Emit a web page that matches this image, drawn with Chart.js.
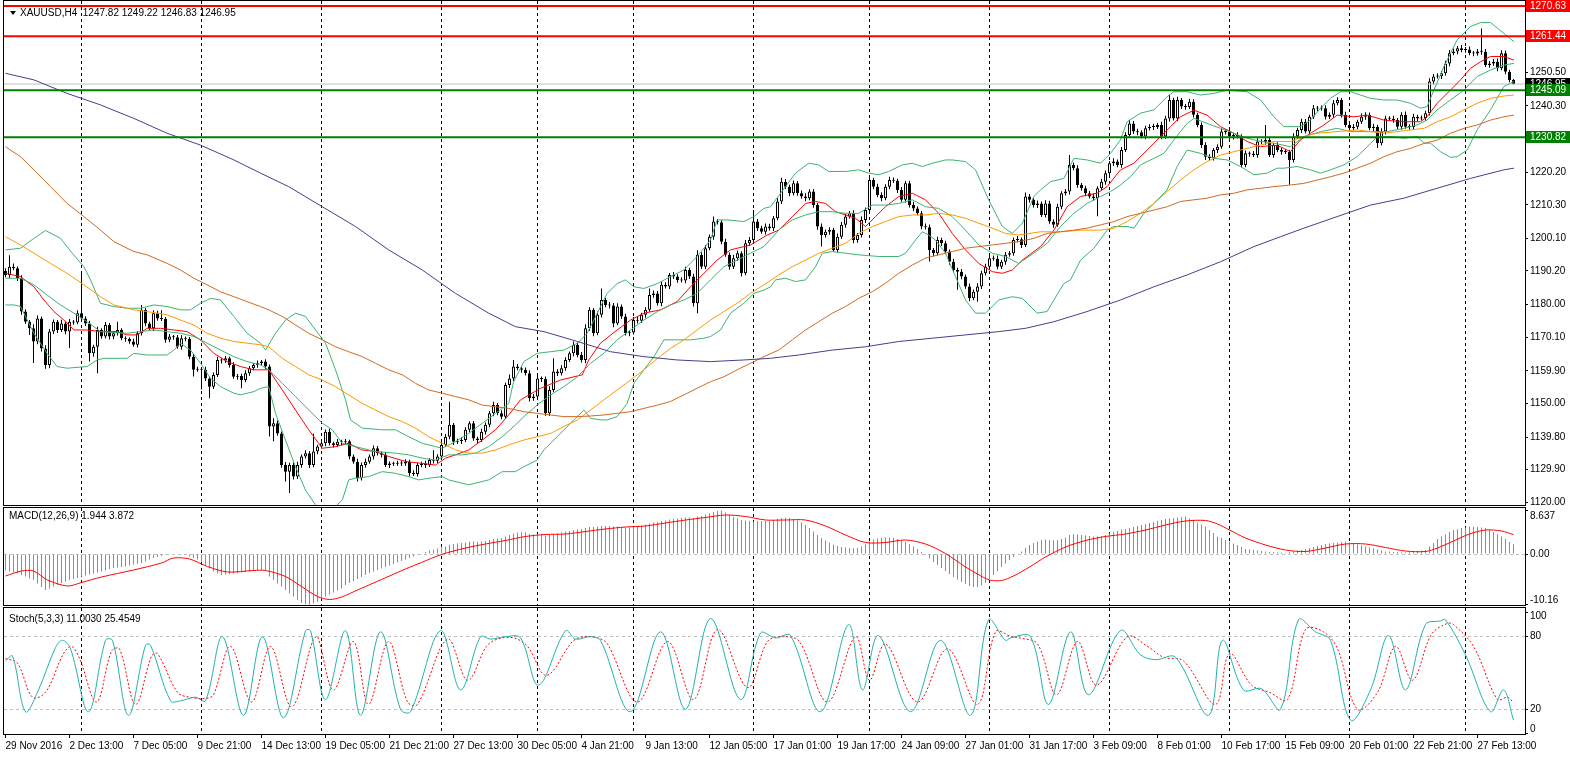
<!DOCTYPE html>
<html>
<head>
<meta charset="utf-8">
<title>XAUUSD,H4</title>
<script src="https://cdn.jsdelivr.net/npm/chart.js@4.4.1/dist/chart.umd.min.js"></script>
<style>
  html, body { margin: 0; padding: 0; background: #fff; overflow: hidden; }
  #wrap { position: relative; width: 1570px; height: 757px; }
  #wrap canvas { position: absolute; left: 0; }
</style>
</head>
<body>
<div id="wrap">
  <canvas id="priceChart" width="1570" height="507" style="top:0px"></canvas>
  <canvas id="macdChart" width="1570" height="100" style="top:507px"></canvas>
  <canvas id="stochChart" width="1570" height="150" style="top:607px"></canvas>
</div>
<script>
// ---------- data (one entry per bar) ----------
const quote = ['1247.82', '1249.22', '1246.83', '1246.95'];
const firstOpen = 1190.2;
const closes = [
  1189.0,1191.5,1191.0,1188.0,1177.9,1174.8,1172.8,1168.8,1175.8,1166.7,
  1161.7,1171.8,1174.8,1172.3,1174.3,1171.8,1174.8,1174.6,1177.4,1175.8,
  1174.3,1165.2,1167.2,1172.3,1170.3,1173.8,1170.3,1171.3,1172.3,1169.8,
  1169.6,1168.8,1167.8,1171.3,1178.4,1174.3,1172.8,1177.4,1175.8,1175.6,
  1169.3,1170.3,1170.1,1167.2,1169.8,1169.6,1164.2,1160.2,1160.4,1160.2,
  1157.6,1155.1,1158.6,1163.2,1163.0,1163.7,1161.7,1158.1,1158.3,1157.1,
  1159.2,1160.7,1161.7,1162.2,1162.7,1161.2,1143.0,1144.0,1140.9,1131.3,
  1129.3,1131.3,1127.8,1131.3,1133.9,1134.9,1131.3,1135.4,1136.9,1137.9,
  1141.4,1137.9,1137.4,1138.4,1138.2,1138.5,1133.9,1132.3,1127.3,1131.3,
  1132.3,1133.9,1136.4,1134.9,1134.4,1131.3,1131.8,1131.7,1131.9,1131.8,
  1132.3,1128.8,1128.6,1131.3,1131.8,1131.3,1132.8,1132.6,1133.9,1137.4,
  1139.9,1143.5,1138.4,1138.6,1138.9,1142.0,1144.0,1139.4,1138.9,1141.4,
  1143.5,1147.0,1149.5,1147.0,1146.0,1155.6,1157.6,1161.2,1160.7,1160.2,
  1159.2,1151.6,1152.1,1157.6,1157.4,1147.0,1154.1,1159.7,1159.2,1160.7,
  1163.2,1165.2,1167.8,1164.7,1163.2,1172.8,1178.4,1171.3,1176.9,1181.4,
  1179.9,1179.7,1174.3,1179.4,1176.4,1171.3,1171.5,1175.3,1175.1,1176.9,
  1178.4,1182.9,1183.4,1180.4,1186.0,1185.5,1189.0,1188.5,1187.5,1187.3,
  1190.5,1188.5,1180.4,1195.1,1191.5,1197.1,1200.6,1205.2,1205.0,1199.1,
  1195.1,1191.5,1194.1,1195.6,1189.5,1198.6,1199.6,1205.2,1203.2,1202.1,
  1203.7,1203.2,1206.2,1211.3,1217.3,1215.8,1213.8,1216.8,1213.8,1212.8,
  1212.3,1214.3,1210.2,1203.7,1201.1,1202.1,1202.7,1196.6,1200.6,1204.2,
  1206.7,1207.7,1199.6,1201.1,1205.7,1208.7,1217.8,1215.8,1213.3,1212.3,
  1215.8,1217.8,1217.6,1214.8,1211.8,1216.8,1210.2,1209.2,1207.7,1203.7,
  1203.5,1196.6,1195.6,1199.6,1198.6,1196.1,1193.0,1190.5,1190.0,1188.5,
  1185.5,1181.9,1183.9,1185.5,1189.5,1191.5,1194.1,1193.9,1191.5,1193.0,
  1195.1,1195.6,1199.6,1199.8,1198.1,1212.8,1211.8,1210.2,1210.7,1207.2,
  1210.7,1205.2,1204.2,1209.7,1213.8,1214.3,1222.4,1221.4,1216.3,1215.3,
  1213.8,1212.8,1212.3,1215.3,1217.3,1219.9,1222.9,1223.4,1222.4,1226.9,
  1231.5,1235.0,1232.5,1232.3,1231.0,1233.5,1234.0,1233.9,1234.5,1231.0,
  1236.5,1242.1,1236.5,1242.1,1240.1,1240.0,1241.6,1237.6,1234.5,1228.4,
  1224.9,1224.4,1226.9,1227.9,1232.5,1232.4,1231.0,1231.5,1231.0,1222.4,
  1225.9,1225.8,1225.4,1229.5,1229.4,1230.0,1225.4,1228.4,1226.9,1226.4,
  1226.3,1223.9,1231.0,1233.0,1235.5,1232.5,1237.0,1239.6,1239.5,1239.6,
  1237.0,1237.6,1241.1,1242.1,1237.6,1234.5,1233.5,1234.0,1235.5,1237.0,
  1237.6,1233.5,1234.0,1229.0,1232.5,1236.5,1236.4,1236.0,1234.0,1237.6,
  1234.0,1233.9,1237.0,1236.5,1236.6,1238.1,1247.7,1249.2,1249.3,1250.2,
  1253.2,1256.3,1256.8,1257.8,1257.3,1257.4,1256.3,1256.2,1256.8,1256.7,
  1252.7,1253.2,1253.7,1251.7,1256.3,1250.7,1248.2,1246.95
];
// shadow length above / below the body, in dollars
const upWick = [
  0.8,3.5,1.0,0.6,0.9,0.7,0.5,1.2,0.9,0.6, 1.0,0.8,0.7,0.5,1.1,0.6,0.8,0.5,0.9,12.0,
  0.7,0.8,0.6,1.0,0.5,0.9,0.6,0.7,2.5,0.5, 0.6,0.4,0.8,0.7,1.5,0.6,0.5,0.9,0.7,2.5,
  0.6,0.8,0.5,0.7,0.9,0.5,0.6,0.8,0.7,0.5, 0.9,0.6,0.8,1.0,0.6,0.7,0.5,0.8,0.6,0.7,
  0.9,0.7,0.6,0.8,0.5,0.7,0.6,1.5,0.8,0.6, 0.9,0.7,0.8,1.0,0.6,0.9,0.7,5.5,0.6,0.8,
  0.7,0.9,0.5,0.8,0.6,0.7,0.5,0.6,0.9,0.8, 1.0,0.6,0.8,0.7,0.5,0.9,0.6,0.5,0.7,0.6,
  0.8,0.6,0.9,0.7,0.5,0.8,0.6,3.0,0.7,0.9, 0.8,7.0,0.6,0.7,0.9,0.8,0.6,0.7,0.5,0.9,
  0.7,0.8,1.0,0.6,0.9,0.7,1.2,2.0,0.8,0.6, 0.7,0.9,0.8,1.0,0.6,0.8,1.1,4.0,0.7,0.9,
  0.8,0.6,1.0,0.7,0.9,1.2,0.8,0.6,1.0,3.5, 0.7,0.9,0.8,1.0,0.6,0.8,0.7,0.9,1.0,0.6,
  0.8,2.0,0.9,0.7,1.0,0.8,0.6,0.9,0.7,0.8, 1.0,0.7,0.9,1.4,0.8,1.0,0.7,1.5,0.8,0.6,
  0.9,0.7,1.0,0.8,0.6,1.0,0.9,3.5,0.8,0.7, 0.9,0.8,0.7,1.0,1.2,0.8,0.6,0.9,0.7,0.8,
  1.0,0.7,0.8,0.6,0.9,0.7,0.8,0.6,1.0,0.9, 0.8,0.7,0.9,0.6,1.0,0.8,1.5,0.7,0.9,0.8,
  0.7,1.0,0.8,0.6,0.9,0.7,0.8,1.0,0.6,0.7, 0.9,0.8,0.6,1.0,0.7,0.8,0.6,0.9,0.7,0.8,
  0.6,0.9,0.7,1.0,0.8,0.9,0.7,0.8,1.0,0.6, 0.9,0.7,0.8,1.0,0.6,1.2,0.8,0.7,0.9,0.6,
  1.0,0.8,0.7,0.9,0.6,0.8,3.0,0.7,0.9,0.6, 0.8,0.7,1.0,0.6,0.9,0.8,0.7,1.0,0.6,0.9,
  0.8,1.0,0.7,0.9,0.6,0.8,0.7,0.9,0.6,1.0, 0.8,1.5,0.7,1.0,0.6,0.8,0.9,0.7,0.6,0.8,
  0.9,0.7,0.6,0.8,1.0,0.7,0.9,0.6,0.8,0.7, 0.9,0.6,0.8,1.0,0.7,4.5,0.8,0.6,0.9,0.7,
  0.8,0.6,1.0,0.7,0.9,0.8,0.6,1.0,0.7,0.8, 0.9,0.7,1.0,0.8,0.6,0.9,0.7,0.8,0.6,1.0,
  0.8,0.7,0.9,0.6,1.0,0.8,0.7,0.9,0.6,0.8, 1.0,0.7,0.9,0.6,0.8,0.7,1.0,0.8,0.9,0.7,
  0.8,1.0,0.9,0.7,1.0,0.8,0.9,0.7,0.8,7.0, 0.9,0.7,0.8,1.0,0.9,0.8,0.6,0.3
];
const dnWick = [
  0.7,0.9,0.6,0.8,1.0,0.7,2.0,6.5,0.8,0.9, 1.2,1.0,0.7,0.9,0.6,0.8,5.0,0.7,0.6,0.9,
  0.8,2.5,1.0,8.0,0.7,0.6,0.9,0.8,0.7,0.6, 0.9,0.7,0.6,0.8,0.7,0.9,0.6,0.8,0.7,0.6,
  0.9,0.7,0.8,0.6,0.9,0.7,0.8,2.0,0.6,6.0, 0.8,3.5,0.7,0.6,0.9,0.7,0.8,0.6,0.9,2.5,
  0.7,0.8,0.6,0.9,0.7,0.8,3.0,4.5,0.7,0.8, 3.0,6.5,0.9,0.7,0.8,0.6,0.9,0.7,0.8,0.6,
  0.9,0.7,0.8,0.6,0.9,0.7,0.8,0.6,1.0,0.7, 0.8,0.6,0.9,0.7,0.8,0.6,0.9,0.7,0.6,0.8,
  0.7,0.9,0.6,0.8,0.7,0.9,0.6,0.8,0.7,0.9, 0.6,0.8,1.0,0.7,0.9,0.6,0.8,0.7,0.9,0.6,
  0.8,0.7,0.9,0.6,0.8,0.7,0.9,0.8,0.6,0.9, 0.7,1.0,0.8,0.6,0.9,0.7,0.8,0.6,0.9,0.7,
  0.8,0.6,0.9,0.7,0.8,1.0,0.7,0.9,0.6,0.8, 0.7,0.9,1.2,0.6,0.8,0.7,0.9,0.6,0.8,0.7,
  0.9,0.6,0.8,0.7,0.9,0.6,0.8,0.7,0.9,0.6, 0.8,0.7,1.0,3.0,0.7,0.8,0.6,0.9,0.7,0.8,
  0.6,0.9,0.7,0.8,1.0,0.6,0.8,0.7,0.9,0.6, 0.8,0.7,0.9,0.6,0.8,0.7,0.9,0.6,0.8,0.7,
  0.9,0.6,0.8,1.0,3.5,0.7,0.9,0.6,0.8,0.7, 0.9,0.6,1.0,0.8,0.7,0.9,0.6,0.8,0.7,0.9,
  0.6,0.8,0.7,0.9,0.6,0.8,0.7,0.9,0.6,0.8, 0.7,3.5,0.9,0.6,0.8,0.7,0.9,0.6,5.5,0.8,
  0.7,0.9,0.6,3.0,0.8,0.7,0.9,0.6,0.8,0.7, 0.9,0.6,0.8,0.7,0.9,0.6,0.8,0.7,0.9,0.6,
  0.8,0.7,0.9,0.6,0.8,0.7,0.9,0.6,0.8,0.7, 0.9,0.6,0.8,5.5,0.7,0.9,0.6,0.8,0.7,0.9,
  0.6,0.8,0.7,0.9,0.6,0.8,0.7,0.9,0.6,0.8, 0.7,0.9,0.6,0.8,0.7,0.9,0.6,0.8,0.7,0.9,
  1.0,0.8,0.7,0.9,0.6,0.8,0.7,0.9,0.6,0.8, 0.7,0.9,0.6,0.8,0.7,0.9,0.6,0.8,0.7,0.9,
  0.6,7.5,0.8,0.7,0.9,0.6,0.8,0.7,0.9,0.6, 0.8,0.7,0.9,0.6,0.8,0.7,0.9,0.6,0.8,0.7,
  0.9,0.6,0.8,1.5,0.7,0.9,0.6,0.8,0.7,0.9, 0.6,0.8,0.7,0.9,0.6,0.8,0.7,0.9,0.6,0.8,
  0.7,0.9,0.6,0.8,0.7,0.9,0.6,0.8,0.7,0.9, 0.6,0.8,0.7,0.9,0.6,0.8,0.7,0.12
];
const lastPrice = 1246.95;
const levels = [1270.63, 1261.44, 1245.09, 1230.82];
const priceTicks = [1120.00, 1129.90, 1139.80, 1150.00, 1159.90, 1170.10, 1180.00, 1190.20,
                    1200.10, 1210.30, 1220.20, 1230.40, 1240.30, 1250.50, 1260.60];

// indicator lines as [bar, value]
const maFast = [[0,1189.5],[3.75,1188.5],[7.1,1185.4],[9.6,1181.4],[12.1,1177.9],[14.6,1175.3],[17.1,1172.3],[20.4,1172.3],[23.75,1171.8],[27.9,1171.8],[30.4,1170.8],[32.9,1170.8],[35.4,1172.8],[38.75,1172.8],[42.1,1172.3],[45.4,1171.8],[48.75,1169.3],[52.1,1165.2],[55.4,1162.7],[58.75,1161.2],[62.1,1160.2],[65.8,1160.2],[69.2,1154.1],[72.5,1148.0],[75.8,1142.0],[79.2,1136.4],[82.5,1136.9],[85.8,1137.9],[89,1135.9],[92.5,1135.4],[95.8,1133.9],[100,1132.4],[104.2,1131.8],[107.5,1131.3],[110,1133.4],[112.5,1134.4],[115.8,1135.9],[119.2,1138.9],[122.5,1142.0],[125.8,1146.5],[128.75,1151.1],[133.75,1154.6],[138.75,1157.1],[144.2,1158.7],[145.8,1163.2],[148.75,1168.3],[152.9,1172.3],[156.25,1175.3],[159.6,1177.4],[163.75,1178.4],[167.9,1180.9],[171.25,1185.4],[174.6,1189.5],[177.9,1193.5],[181.25,1196.6],[186.25,1198.1],[190.4,1201.1],[193.3,1202.6],[196.7,1206.7],[200,1210.7],[202.5,1211.3],[205,1210.7],[207.5,1208.2],[210,1207.2],[212.5,1206.2],[215,1203.7],[217.5,1206.7],[220,1209.7],[223.3,1212.8],[226.7,1213.8],[230,1211.8],[233.3,1207.7],[236.7,1201.6],[240,1196.6],[243.3,1192.5],[246.7,1190.0],[249.2,1189.5],[251.7,1190.5],[254.2,1193.5],[258.75,1197.6],[262.1,1202.6],[265.4,1209.7],[268.75,1212.8],[272.9,1213.8],[275.4,1215.8],[278.75,1220.9],[282.1,1222.9],[285.4,1226.9],[288.75,1231.0],[291.25,1234.0],[293.75,1237.0],[297.1,1239.0],[300.4,1237.5],[303.75,1234.0],[307.1,1232.0],[310.4,1229.5],[313.75,1227.9],[317.1,1228.4],[318.75,1227.9],[321.25,1226.4],[323.75,1230.0],[326.25,1232.0],[329.6,1234.5],[332.9,1237.5],[337.1,1237.0],[340.4,1237.5],[344.6,1236.0],[349.6,1235.5],[353.75,1235.5],[355.4,1237.0],[357.9,1241.1],[361.25,1245.1],[363.75,1248.2],[366.25,1251.7],[368.75,1253.7],[371.25,1255.3],[374.6,1255.3],[377.1,1254.2]];
const bbUpper = [[0,1196.6],[3.75,1197.1],[7.1,1200.1],[10,1202.5],[13.75,1200.1],[16.7,1195.6],[19.6,1191.5],[21.25,1187.5],[23.75,1180.4],[27.1,1179.4],[30.4,1178.9],[33.75,1178.9],[37.1,1179.9],[40.4,1179.4],[43.75,1178.4],[46.25,1178.4],[48.75,1180.4],[51.25,1181.9],[53.75,1181.4],[57.1,1176.4],[60.4,1171.3],[63.75,1168.3],[65,1166.2],[67.5,1171.3],[70,1175.3],[72.5,1177.4],[75,1176.4],[77.5,1172.3],[80,1168.3],[82.5,1160.2],[85,1151.1],[86.25,1145.0],[89.2,1142.5],[94.2,1142.0],[97.5,1142.0],[100.8,1139.9],[104.2,1137.9],[107.5,1136.9],[109.2,1136.4],[112.5,1138.4],[115.8,1140.9],[119.2,1144.0],[122.5,1147.0],[125.8,1150.0],[127,1156.5],[129.6,1162.7],[132.9,1165.2],[136.25,1165.7],[139.6,1166.2],[143,1168.3],[145.4,1171.3],[147.1,1175.3],[148.75,1179.4],[150.4,1183.4],[152.9,1186.4],[155,1187.5],[157.1,1185.4],[159.6,1184.9],[163,1186.4],[166.25,1188.5],[169.6,1190.5],[172.9,1194.6],[176.25,1199.6],[177.9,1205.7],[180.4,1205.7],[184.6,1205.2],[187.1,1206.7],[189.6,1209.2],[191.25,1209.7],[195,1215.8],[197.5,1219.9],[200.8,1222.9],[203.3,1222.4],[205.8,1220.4],[210,1220.4],[213.3,1220.9],[215.8,1219.9],[218.3,1219.4],[220.8,1220.4],[224.2,1222.4],[226.7,1222.9],[229.2,1221.9],[231.7,1222.9],[235,1223.9],[236.7,1223.9],[240,1223.4],[242.5,1220.9],[245.8,1211.8],[249.2,1203.7],[251.7,1201.6],[254.2,1204.7],[257.1,1212.8],[258.75,1214.8],[261.25,1217.3],[264.6,1218.3],[267.1,1224.4],[270.4,1223.9],[273.75,1222.9],[276.25,1225.9],[278.75,1230.0],[280.4,1235.5],[283.75,1238.1],[287.1,1239.1],[290.4,1243.1],[292.1,1244.6],[295.4,1244.6],[298.75,1243.6],[302.1,1244.1],[305.4,1245.1],[310.4,1244.6],[313.75,1242.1],[317.1,1237.0],[319.6,1234.0],[323.75,1234.0],[326.25,1236.0],[328.75,1239.6],[331.25,1242.6],[333.75,1244.6],[336.25,1244.6],[338.75,1243.6],[341.25,1242.6],[344.6,1242.1],[347.9,1242.1],[351.25,1241.1],[353.75,1239.6],[355.4,1240.1],[357.1,1245.1],[359.6,1252.2],[362.9,1260.3],[366.25,1264.4],[368.75,1265.6],[371.25,1265.6],[374.6,1262.3],[377.1,1259.8]];
const bbMiddle = [[0,1188.0],[3.75,1188.0],[7.1,1186.0],[10.4,1182.9],[13.75,1179.9],[17.1,1177.4],[20.4,1174.8],[23.75,1171.8],[27.1,1171.5],[30.4,1171.3],[33.75,1171.8],[37.1,1172.3],[40.4,1171.8],[43.75,1171.3],[47.1,1170.3],[50.4,1168.3],[53.75,1166.2],[57.1,1164.2],[60.4,1162.7],[63.75,1161.7],[65.8,1160.2],[69.2,1156.1],[72.5,1152.1],[75.8,1148.0],[79.2,1144.0],[81.7,1142.0],[84.2,1137.9],[87.5,1136.9],[92.5,1135.4],[97.5,1134.9],[100.8,1134.4],[104.2,1133.4],[107.5,1132.8],[110.8,1134.4],[114.2,1134.4],[117.5,1134.9],[120.8,1136.9],[124.2,1139.9],[127.5,1143.5],[129.6,1146.0],[132.9,1149.5],[136.25,1152.6],[139.6,1155.1],[143,1158.1],[146.25,1162.2],[149.6,1165.2],[152.9,1169.3],[156.25,1172.3],[159.6,1175.3],[163,1177.9],[166.25,1179.9],[169.6,1181.4],[172.9,1183.4],[176.25,1187.5],[179.6,1191.5],[182.9,1193.5],[186.25,1195.6],[189.6,1197.6],[193.3,1202.6],[196.7,1205.7],[200,1207.2],[203.3,1208.2],[206.7,1208.2],[210,1207.7],[213.3,1207.7],[216.7,1210.2],[220,1210.2],[223.3,1210.7],[226.7,1211.8],[230,1209.7],[233.3,1209.2],[236.7,1206.7],[240,1202.6],[243.3,1198.1],[246.7,1195.6],[250,1194.6],[253.3,1192.5],[257.1,1195.6],[260.4,1198.6],[263.75,1203.7],[267.1,1207.7],[270.4,1210.7],[273.75,1212.8],[276.25,1214.3],[278.75,1216.3],[281.25,1218.8],[283.75,1222.4],[287.1,1224.4],[289.6,1225.9],[292.1,1230.0],[293.75,1232.5],[295.4,1235.0],[297.1,1236.5],[300.4,1235.0],[303.75,1233.5],[307.1,1232.0],[310.4,1230.5],[313.75,1229.5],[317.1,1229.0],[321.25,1227.9],[324.6,1231.0],[328.75,1232.5],[332.9,1233.5],[336.25,1232.5],[341.25,1232.5],[345.4,1232.5],[349.6,1233.5],[352.9,1234.5],[355.4,1236.0],[357.9,1239.1],[361.25,1242.1],[364.6,1245.1],[367.9,1249.2],[371.25,1251.2],[374.6,1252.7],[377.1,1253.2]];
const bbLower = [[0,1179.9],[2.1,1179.9],[3.75,1179.4],[7.1,1171.3],[10.4,1165.2],[12.9,1161.2],[15.4,1160.7],[20.4,1161.2],[22.9,1163.2],[24.6,1163.7],[30.4,1163.7],[32.1,1165.2],[35.4,1164.7],[40.4,1164.7],[42.1,1166.2],[43.75,1168.3],[46.25,1166.2],[48.75,1162.2],[51.25,1157.6],[53.75,1155.1],[57.1,1153.1],[58.75,1152.6],[62.1,1153.6],[63.75,1154.6],[65.8,1155.1],[67.5,1147.0],[70,1138.9],[72.5,1130.8],[75,1123.7],[77.5,1119.2],[79.2,1116.6],[82.5,1118.7],[84.2,1120.7],[85.8,1126.8],[87.5,1127.3],[90.8,1127.8],[94.2,1129.3],[97.5,1128.8],[100.8,1127.8],[103.3,1126.8],[105.8,1127.3],[109.2,1127.8],[110.8,1126.8],[115.8,1125.3],[120.8,1126.8],[124.2,1129.3],[127.5,1129.3],[129.6,1130.8],[132.9,1132.8],[134.6,1135.9],[137.9,1139.9],[141.25,1144.0],[144.6,1148.0],[146.25,1145.5],[148.75,1145.0],[150.4,1145.0],[152.9,1146.0],[155.4,1150.0],[157.1,1156.1],[159.6,1160.2],[162.1,1164.2],[164.6,1169.3],[167.9,1169.3],[171.25,1169.3],[174.6,1169.8],[176.25,1170.3],[178.75,1172.3],[181.25,1177.4],[184.6,1180.4],[187.1,1183.4],[189.6,1184.4],[191.25,1185.4],[192.5,1187.5],[195,1188.0],[197.5,1187.0],[200,1187.5],[202.5,1191.5],[204.2,1195.6],[206.7,1196.1],[210,1195.6],[213.3,1195.1],[218.3,1194.6],[223.3,1194.6],[225,1195.6],[227.5,1199.6],[229.2,1202.1],[230.8,1201.1],[232.5,1199.6],[235,1195.6],[237.5,1188.5],[240,1181.4],[242.5,1177.4],[245,1177.4],[248.3,1181.4],[251.7,1182.4],[254.2,1181.9],[257.9,1177.4],[260.4,1177.9],[262.1,1181.4],[264.6,1186.4],[266.25,1187.5],[268.75,1193.5],[272.1,1197.1],[275.4,1202.6],[277.1,1203.7],[280.4,1203.7],[282.1,1203.2],[284.6,1207.7],[287.1,1210.7],[290.4,1214.8],[292.9,1221.9],[295.4,1226.9],[298.75,1225.9],[302.1,1224.4],[305.4,1223.9],[308.75,1221.9],[312.1,1219.4],[315.4,1219.9],[317.9,1221.4],[319.6,1221.4],[322.9,1221.9],[326.25,1220.9],[328.75,1219.9],[331.25,1220.9],[334.6,1222.4],[337.9,1224.9],[341.25,1228.9],[342.9,1231.0],[346.25,1231.0],[349.6,1230.5],[352.9,1231.0],[354.6,1229.0],[356.25,1229.0],[358.75,1226.4],[361.25,1224.7],[362.9,1224.9],[365.4,1226.9],[367.9,1233.0],[371.25,1239.1],[374.6,1246.2],[377.1,1247.7]];
const maOrange = [[0,1200.6],[3.75,1198.1],[7.1,1195.6],[11.25,1192.5],[15.4,1189.5],[19.6,1186.0],[23.75,1182.4],[27.1,1179.9],[32.1,1178.4],[35.4,1177.9],[40.4,1176.9],[43.75,1175.3],[47.1,1173.8],[50.4,1171.3],[53.75,1169.8],[57.1,1168.8],[60.4,1168.3],[63.75,1167.8],[65.8,1167.2],[69.2,1163.7],[72.5,1161.2],[75.8,1158.7],[79.2,1157.1],[82.5,1155.1],[85.8,1152.6],[89.2,1150.0],[92.5,1148.0],[95.8,1146.0],[99.2,1144.5],[102.5,1142.5],[105.8,1139.9],[109.2,1137.9],[112.5,1135.9],[115.8,1134.9],[119.2,1134.9],[122.5,1135.9],[125.8,1137.4],[129.6,1138.9],[132.9,1139.9],[136.25,1140.9],[139.6,1143.0],[143,1145.0],[146.25,1148.0],[149.6,1151.1],[152.9,1154.1],[156.25,1157.1],[159.6,1160.2],[163,1163.7],[166.25,1166.7],[169.6,1169.3],[172.9,1172.3],[176.25,1175.3],[179.6,1177.9],[182.9,1180.4],[186.25,1183.4],[189.6,1186.0],[193.3,1189.0],[196.7,1191.5],[200,1193.5],[203.3,1195.6],[206.7,1197.1],[210,1198.6],[213.3,1201.6],[216.7,1203.7],[220,1205.2],[223.3,1206.7],[226.7,1207.2],[230,1207.2],[233.3,1207.7],[236.7,1207.2],[240,1206.2],[243.3,1204.7],[246.7,1203.2],[250,1201.6],[253.3,1201.1],[258.75,1202.1],[263.75,1202.1],[268.75,1202.6],[273.75,1202.6],[277.1,1203.2],[280.4,1205.2],[283.75,1207.7],[287.1,1210.7],[290.4,1214.3],[293.75,1217.8],[297.1,1220.9],[300.4,1223.4],[303.75,1225.4],[307.1,1226.4],[310.4,1227.4],[313.75,1228.4],[317.1,1229.5],[321.25,1229.5],[324.6,1231.0],[327.9,1232.0],[332.9,1232.5],[337.9,1233.0],[341.25,1232.5],[344.6,1232.0],[347.9,1232.5],[351.25,1233.0],[354.6,1233.5],[357.9,1235.5],[361.25,1237.0],[364.6,1239.1],[367.9,1241.1],[371.25,1242.6],[374.6,1243.3],[377.1,1243.6]];
const maBrown = [[0,1227.9],[3.75,1224.9],[7.1,1220.9],[11.25,1215.8],[15.4,1210.7],[19.6,1206.7],[23.75,1202.6],[27.1,1199.1],[32.1,1196.1],[35.4,1195.1],[40.4,1192.5],[43.75,1190.5],[47.1,1188.0],[50.4,1186.0],[53.75,1183.9],[57.1,1182.4],[60.4,1180.9],[63.75,1179.4],[65.8,1178.4],[69.2,1176.4],[72.5,1173.8],[75.8,1171.3],[79.2,1169.3],[82.5,1167.2],[85.8,1165.7],[89.2,1164.2],[92.5,1162.2],[95.8,1160.2],[99.2,1158.7],[102.5,1156.1],[105.8,1154.1],[109.2,1153.1],[112.5,1152.1],[115.8,1151.1],[119.2,1149.5],[122.5,1149.0],[125.8,1148.5],[129.6,1147.5],[132.9,1147.0],[136.25,1146.5],[139.6,1146.0],[143,1146.0],[146.25,1146.2],[149.6,1146.5],[152.9,1147.0],[156.25,1147.5],[159.6,1148.5],[163,1149.5],[166.25,1150.6],[169.6,1152.6],[172.9,1154.6],[176.25,1156.6],[179.6,1158.1],[182.9,1160.2],[186.25,1162.2],[189.6,1164.2],[193.3,1166.2],[196.7,1169.3],[200,1172.3],[203.3,1174.8],[206.7,1177.4],[210,1179.4],[213.3,1181.9],[216.7,1183.9],[220,1186.5],[223.3,1189.5],[226.7,1192.0],[230,1194.1],[233.3,1195.1],[236.7,1196.1],[240,1197.1],[243.3,1197.6],[246.7,1198.1],[250,1198.6],[253.3,1199.1],[257.1,1200.1],[260.4,1201.6],[263.75,1202.1],[267.1,1202.6],[270.4,1203.2],[273.75,1204.2],[277.1,1205.2],[280.4,1206.7],[283.75,1207.7],[287.1,1208.7],[290.4,1209.7],[293.75,1211.3],[297.1,1211.8],[300.4,1212.3],[303.75,1213.3],[307.1,1213.8],[310.4,1214.8],[313.75,1215.3],[317.1,1215.8],[321.25,1216.3],[324.6,1216.8],[327.9,1217.8],[331.25,1218.8],[334.6,1219.9],[337.9,1221.4],[341.25,1222.9],[344.6,1224.9],[347.9,1226.4],[351.25,1227.4],[354.6,1228.9],[357.9,1229.9],[361.25,1232.0],[364.6,1233.5],[367.9,1234.5],[371.25,1236.0],[374.6,1237.0],[377.1,1237.5]];
const maSlow = [[0,1250.2],[7.1,1248.2],[15.4,1244.1],[23.75,1240.6],[32.1,1236.5],[40.4,1232.0],[48.75,1228.4],[57.1,1223.9],[63.75,1219.9],[70.8,1215.8],[79.2,1209.7],[87.5,1203.7],[95.8,1196.6],[104.2,1190.5],[112.5,1183.4],[120.8,1177.4],[127.5,1173.3],[134.6,1171.8],[143,1168.8],[151.25,1165.7],[159.6,1164.2],[167.9,1163.2],[176.25,1162.7],[184.6,1163.2],[191.25,1163.7],[198.3,1164.7],[206.7,1166.2],[215,1167.2],[223.3,1168.8],[231.7,1169.8],[240,1170.8],[248.3,1171.8],[255,1172.8],[262.1,1174.8],[270.4,1177.9],[278.75,1181.4],[287.1,1185.4],[295.4,1189.0],[303.75,1193.0],[312.1,1197.6],[318.75,1200.6],[324.6,1203.2],[332.9,1206.7],[341.25,1210.2],[349.6,1212.3],[357.9,1215.3],[366.25,1218.3],[374.6,1220.9],[377.1,1221.4]];

// MACD(12,26,9): main value per bar (histogram) and signal line
const macdMain = [
  -3.3,-3.5,-3.7,-3.9,-4.2,-4.5,-4.9,-5.2,-5.9,-6.6, -7.2,-6.9,-6.5,-6.2,-5.8,-5.5,-5.2,-5.0,-4.8,-4.5,
  -4.3,-4.1,-3.9,-3.7,-3.5,-3.3,-3.0,-2.8,-2.7,-2.6, -2.5,-2.3,-2.1,-2.0,-1.8,-1.5,-1.1,-0.8,-0.6,-0.4,
  -0.2,-0.1,0.0,-0.1,-0.1,-0.2,-0.5,-0.8,-1.1,-1.5, -2.2,-2.9,-3.5,-3.9,-4.2,-4.1,-4.0,-3.9,-3.8,-3.7,
  -3.6,-3.5,-3.4,-3.3,-3.2,-3.3,-4.5,-5.2,-5.9,-6.5, -7.2,-7.9,-8.5,-9.2,-9.8,-10.0,-10.16,-9.9,-9.6,-9.0,
  -8.5,-8.1,-7.7,-7.3,-6.9,-6.2,-5.8,-5.4,-5.0,-4.6, -4.2,-3.8,-3.5,-3.2,-2.9,-2.6,-2.3,-2.0,-1.7,-1.4,
  -1.1,-0.8,-0.5,-0.2,0.1,0.4,0.7,0.9,1.1,1.3, 1.5,1.8,2.0,2.1,2.2,2.3,2.5,2.5,2.4,2.5,
  2.6,2.8,3.0,3.1,3.2,3.5,3.8,4.1,4.3,4.4, 4.3,4.0,3.9,4.0,4.0,3.7,3.8,4.0,4.1,4.3,
  4.5,4.6,4.8,4.9,5.0,5.2,5.4,5.4,5.5,5.6, 5.6,5.6,5.5,5.5,5.4,5.3,5.3,5.4,5.5,5.7,
  5.9,6.1,6.3,6.4,6.6,6.7,6.9,7.0,7.1,7.2, 7.3,7.3,7.2,7.5,7.6,7.9,8.1,8.4,8.6,8.637,
  8.3,7.8,7.4,7.1,6.8,6.7,6.6,6.5,6.6,6.6, 6.6,6.6,6.8,7.0,7.2,7.3,7.2,7.0,6.7,6.3,
  5.8,5.2,4.5,3.8,3.2,2.7,2.3,1.9,1.6,1.4, 1.3,1.2,1.1,1.2,1.5,1.9,2.5,2.9,3.1,3.2,
  3.3,3.3,3.2,3.0,2.7,2.4,2.0,1.5,1.0,0.4, -0.2,-0.9,-1.6,-2.2,-2.8,-3.4,-4.0,-4.6,-5.1,-5.6,
  -6.0,-6.4,-6.6,-6.6,-6.3,-5.8,-5.0,-4.2,-3.4,-2.6, -1.9,-1.2,-0.6,0.0,0.5,1.2,1.8,2.2,2.5,2.8,
  2.9,2.8,2.7,2.8,3.0,3.3,3.8,4.0,3.9,3.8, 3.7,3.6,3.5,3.5,3.6,3.8,4.1,4.4,4.6,4.9,
  5.0,5.2,5.4,5.6,5.8,6.0,6.2,6.4,6.6,6.8, 7.0,7.1,7.2,7.3,7.4,7.5,7.1,6.7,6.3,5.9,
  5.5,4.8,4.2,3.5,3.2,2.8,2.5,2.1,1.8,1.4, 1.0,0.9,0.8,0.7,0.6,0.5,0.4,0.4,0.3,0.3,
  0.2,0.4,0.5,0.7,0.8,1.0,1.2,1.4,1.6,1.8, 2.0,2.1,2.2,2.3,2.4,2.5,2.3,2.1,1.9,1.7,
  1.5,1.3,1.1,0.9,0.7,0.5,0.5,0.4,0.4,0.3, 0.3,0.4,0.5,0.6,0.7,0.8,1.5,2.2,3.0,3.5,
  3.9,4.4,4.8,5.0,5.2,5.3,5.5,5.5,5.4,5.3, 5.2,4.8,4.4,4.0,3.5,3.0,2.4,1.944
];
const macdSignal = [[0,-4.4],[4,-3.4],[7,-3.4],[10.5,-5.2],[15.5,-6.4],[19,-5.7],[24,-4.6],[32,-3.2],[39,-1.8],[42,-0.8],[46,-1.0],[50.5,-2.5],[55.5,-3.6],[62,-3.3],[65,-3.3],[70,-4.5],[74,-6.5],[78,-8.5],[81,-9.1],[84,-8.6],[88,-7.2],[92,-5.8],[96,-4.4],[100,-3.0],[104,-1.7],[109,-0.1],[115,1.2],[120,2.0],[125,2.7],[130,3.5],[135,3.9],[140,4.0],[145,4.5],[150,5.0],[155,5.4],[160,5.6],[165,6.2],[170,6.8],[175,7.3],[180,7.8],[185,7.5],[190,6.8],[195,6.8],[200,6.8],[205,5.6],[210,3.8],[215,2.3],[220,2.3],[225,2.8],[230,2.0],[235,0.1],[240,-2.6],[243,-4.0],[246,-5.2],[249,-5.3],[252,-4.4],[256,-2.6],[260,-0.6],[265,1.4],[270,2.7],[275,3.5],[280,4.0],[285,4.8],[290,5.8],[295,6.6],[300,6.7],[303,6.0],[306,4.8],[310,3.2],[315,1.8],[320,0.8],[325,0.5],[330,1.2],[335,2.0],[340,2.0],[345,1.3],[350,0.6],[355,0.5],[358,1.2],[362,2.6],[366,4.0],[370,4.8],[374,4.6],[377,3.872]];
const macdTicks = [8.637, 0, -10.16];
const macdTickText = ['8.637', '0.00', '-10.16'];

// Stochastic(5,3,3): main and signal as [bar, value]
const stochMain = [[0,60],[1.75,64],[5,18],[8.25,36],[12.5,71],[14.25,77],[16.25,70],[20.75,18],[25,77],[26.75,77],[30.75,15],[35,73],[36.25,73],[41.25,27],[43.75,27],[47.5,30],[50,27],[54.25,80],[59.5,15],[64.25,80],[69.5,13],[75,85],[76.25,85],[80,28],[85,85],[88.75,15],[93.75,84],[98.75,20],[101.25,18],[108.75,85],[113.75,36],[118.75,80],[121.25,78],[125,80],[128.75,79],[133.25,40],[140,85],[142.5,78],[146.25,80],[148.75,77],[156.25,18],[163.75,84],[170,20],[176.25,95],[183.75,28],[188.75,83],[192.5,79],[196.25,81],[203.75,18],[210.75,90],[214.25,36],[218.25,81],[226.25,18],[233.75,77],[241.25,15],[245.75,94],[250,77],[251.25,79],[256.25,80],[260.75,24],[266.25,84],[270.75,32],[278.75,85],[283.75,65],[287.5,61],[292.5,63],[300.75,15],[304.25,77],[309.5,36],[314,37],[318.75,20],[323.25,94],[327.5,84],[331.25,77],[336.25,11],[341.25,36],[345.75,81],[350,36],[355,90],[358.75,93],[360,94],[365,65],[371.25,18],[374.5,36],[377,11.003]];
const stochSignal = [[0,62],[3,58],[6.75,30],[10,34],[14.5,66],[16.5,72],[18.5,62],[22.75,26],[26.5,68],[28.5,70],[32.5,24],[36.5,64],[38,66],[43,34],[46,30],[50,29],[52,32],[56.25,72],[61.5,26],[66.25,72],[71.5,22],[76.75,76],[78,80],[82,36],[87,76],[90.75,24],[95.75,76],[100.5,26],[103,24],[110.5,78],[115.5,44],[120.25,72],[123,78],[127,79],[130.5,72],[135.25,48],[141.75,76],[144.5,80],[148,79],[150.5,74],[158,26],[165.5,76],[172,28],[178,86],[185.5,38],[190.5,76],[194.5,80],[198.5,76],[205.5,26],[212.5,80],[216,44],[220,74],[228,26],[235.5,70],[243,24],[247.5,84],[251.5,80],[253.5,79],[258,74],[262.75,32],[268,76],[272.75,40],[280.5,80],[285.5,72],[289.5,63],[294.5,60],[302.5,24],[306,66],[311.5,40],[316,34],[320.5,28],[325,86],[329.5,84],[333,70],[338,20],[343,34],[347.5,72],[351.75,44],[356.5,82],[360.5,91],[362,90],[367,72],[373,28],[375.5,30],[377,25.45]];
const stochTicks = [100, 80, 20, 0];
const stochTickText = ['100', '80', '20', '0'];

// time axis
const weekIdx = [19, 49, 79, 109, 133, 157, 187, 216, 246, 276, 306, 336, 365];
const labelIdx = [0, 16, 32, 48, 64, 80, 96, 112, 128, 144, 160, 176, 192, 208, 224, 240, 256, 272, 288, 304, 320, 336, 352, 368];
const dateLabels = ['29 Nov 2016', '2 Dec 13:00', '7 Dec 05:00', '9 Dec 21:00', '14 Dec 13:00', '19 Dec 05:00',
  '21 Dec 21:00', '27 Dec 13:00', '30 Dec 05:00', '4 Jan 21:00', '9 Jan 13:00', '12 Jan 05:00', '17 Jan 01:00',
  '19 Jan 17:00', '24 Jan 09:00', '27 Jan 01:00', '31 Jan 17:00', '3 Feb 09:00', '8 Feb 01:00', '10 Feb 17:00',
  '15 Feb 09:00', '20 Feb 01:00', '22 Feb 21:00', '27 Feb 13:00'];

// ---------- styling ----------
const FONT = '"Liberation Sans", Arial, sans-serif';
const FONT_SIZE = 10;
const X_MIN = -0.375, X_MAX = 379.875;
const LEVEL_COLORS = ['#ff0000', '#ff0000', '#008000', '#008000'];

Chart.defaults.font.family = FONT;
Chart.defaults.font.size = FONT_SIZE;
Chart.defaults.color = '#000';

function pts(pairs) {
  return pairs.map(p => ({ x: p[0], y: p[1] }));
}

function lineSet(pairs, color, extra) {
  return Object.assign({
    type: 'line', data: pts(pairs), borderColor: color, borderWidth: 1,
    pointRadius: 0, tension: 0, order: 1
  }, extra || {});
}

function weekAxis() {
  return {
    type: 'linear', min: X_MIN, max: X_MAX, position: 'bottom', offset: false,
    afterBuildTicks: s => { s.ticks = weekIdx.map(v => ({ value: v })); },
    afterFit: s => { s.height = 0; s.paddingLeft = 0; s.paddingRight = 0; },
    ticks: { display: false },
    grid: { color: '#000', lineWidth: 1, drawTicks: false, offset: false },
    border: { display: false, dash: [3, 3] }
  };
}

// labelFn null -> labels are drawn by the panelLabels plugin (kept inside the panel)
function rightAxis(min, max, tickValues, labelFn, gridColor) {
  return {
    type: 'linear', position: 'right', min: min, max: max,
    afterBuildTicks: s => { s.ticks = tickValues.map(v => ({ value: v })); },
    afterFit: s => { s.width = 45; s.paddingTop = 0; s.paddingBottom = 0; },
    ticks: { display: !!labelFn, padding: 2, callback: labelFn || (v => v) },
    grid: {
      drawOnChartArea: !!gridColor, drawTicks: true, tickLength: 3, tickColor: '#000',
      color: gridColor || '#000'
    },
    border: { display: false, dash: [3, 3] }
  };
}

const framePlugin = {
  id: 'frame',
  afterDraw(chart) {
    const { ctx, chartArea: a } = chart;
    ctx.save();
    ctx.strokeStyle = '#000';
    ctx.lineWidth = 1;
    ctx.strokeRect(a.left - 0.5, a.top - 0.5, a.right - a.left + 1, a.bottom - a.top + 1);
    ctx.restore();
  }
};

const captionPlugin = {
  id: 'caption',
  afterDraw(chart, args, opts) {
    const ctx = chart.ctx;
    ctx.save();
    ctx.font = FONT_SIZE + 'px ' + FONT;
    ctx.fillStyle = '#000';
    ctx.textBaseline = 'middle';
    let x = opts.x;
    if (opts.arrow) {
      ctx.beginPath();
      ctx.moveTo(x, opts.y - 2);
      ctx.lineTo(x + 6, opts.y - 2);
      ctx.lineTo(x + 3, opts.y + 2);
      ctx.closePath();
      ctx.fill();
      x += 10;
    }
    ctx.fillText(opts.text, x, opts.y);
    ctx.restore();
  }
};

// scale labels of the indicator panels, nudged inside the panel like the terminal does
const panelLabelPlugin = {
  id: 'panelLabels',
  afterDraw(chart, args, opts) {
    const { ctx, chartArea: a } = chart;
    const y = chart.scales.y;
    ctx.save();
    ctx.font = FONT_SIZE + 'px ' + FONT;
    ctx.fillStyle = '#000';
    ctx.textBaseline = 'middle';
    opts.values.forEach((v, k) => {
      const py = Math.min(Math.max(y.getPixelForValue(v), a.top + 8), a.bottom - 5);
      ctx.fillText(opts.text[k], y.left + 5, py);
    });
    ctx.restore();
  }
};

// coloured price tags on the right scale
const priceTagPlugin = {
  id: 'priceTags',
  afterDraw(chart) {
    const { ctx } = chart;
    const y = chart.scales.y;
    ctx.save();
    ctx.font = FONT_SIZE + 'px ' + FONT;
    ctx.textBaseline = 'middle';
    const tag = (v, color) => {
      const py = Math.round(y.getPixelForValue(v));
      ctx.fillStyle = color;
      ctx.fillRect(y.left + 1, py - 6, 44, 12);
      ctx.fillStyle = '#fff';
      ctx.fillText(v.toFixed(2), y.left + 5, py);
    };
    tag(lastPrice, '#000');
    levels.forEach((v, k) => tag(v, LEVEL_COLORS[k]));
    ctx.restore();
  }
};

// ---------- price panel ----------
const bodies = [], shadows = [];
closes.forEach((c, i) => {
  const o = i === 0 ? firstOpen : closes[i - 1];
  bodies.push({ x: i, y: [o, c] });
  shadows.push({ x: i, y: [Math.min(o, c) - dnWick[i], Math.max(o, c) + upWick[i]] });
});

const levelSets = levels.map((v, k) => ({
  type: 'line', data: [{ x: X_MIN, y: v }, { x: X_MAX, y: v }],
  borderColor: LEVEL_COLORS[k], borderWidth: 2, pointRadius: 0, order: 0
}));

new Chart(document.getElementById('priceChart'), {
  type: 'bar',
  data: {
    datasets: [
      { data: shadows, backgroundColor: '#000', barThickness: 1, grouped: false,
        inflateAmount: 0, order: 3 },
      { data: bodies, barThickness: 3, grouped: false, inflateAmount: 0, minBarLength: 1,
        borderWidth: 1, borderColor: '#000', borderSkipped: false, order: 2,
        backgroundColor: ctx => (ctx.raw && ctx.raw.y[1] >= ctx.raw.y[0]) ? '#ffffff' : '#000000' },
      lineSet(maSlow, '#483d8b'),
      lineSet(maBrown, '#d2691e'),
      lineSet(maOrange, '#ff9900'),
      lineSet(bbUpper, '#3cb371'),
      lineSet(bbMiddle, '#3cb371'),
      lineSet(bbLower, '#3cb371'),
      lineSet(maFast, '#ff0000'),
      { type: 'line', data: [{ x: X_MIN, y: lastPrice }, { x: X_MAX, y: lastPrice }],
        borderColor: '#c0c0c0', borderWidth: 1, pointRadius: 0, order: 1 },
      ...levelSets
    ]
  },
  options: {
    responsive: false, animation: false, events: [],
    layout: { padding: { left: 4, top: 1, right: 0, bottom: 2 } },
    plugins: {
      legend: { display: false }, tooltip: { enabled: false },
      caption: { x: 10, y: 13, arrow: true, text: 'XAUUSD,H4  ' + quote.join(' ') }
    },
    scales: {
      x: weekAxis(),
      y: rightAxis(1119.18, 1272.14, priceTicks, v => v.toFixed(2))
    }
  },
  plugins: [framePlugin, captionPlugin, priceTagPlugin]
});

// ---------- MACD panel ----------
new Chart(document.getElementById('macdChart'), {
  type: 'bar',
  data: {
    datasets: [
      { data: macdMain.map((v, i) => ({ x: i, y: v })), backgroundColor: '#33cc33',
        barThickness: 1, grouped: false, inflateAmount: 0, order: 2 },
      lineSet(macdSignal, '#ff0000', { tension: 0.3 })
    ]
  },
  options: {
    responsive: false, animation: false, events: [],
    layout: { padding: { left: 4, top: 1, right: 0, bottom: 2 } },
    plugins: {
      legend: { display: false }, tooltip: { enabled: false },
      caption: { x: 9, y: 9, text: 'MACD(12,26,9) 1.944 3.872' },
      panelLabels: { values: macdTicks, text: macdTickText }
    },
    scales: {
      x: weekAxis(),
      y: rightAxis(-10.2, 9.2, macdTicks, null,
        ctx => (ctx.tick && ctx.tick.value === 0) ? '#c0c0c0' : 'rgba(0,0,0,0)')
    }
  },
  plugins: [framePlugin, captionPlugin, panelLabelPlugin]
});

// ---------- Stochastic panel ----------
const timeAxis = {
  type: 'linear', min: X_MIN, max: X_MAX, position: 'bottom', offset: false,
  afterBuildTicks: s => { s.ticks = labelIdx.map(v => ({ value: v })); },
  afterFit: s => { s.height = 23; s.paddingLeft = 0; s.paddingRight = 0; },
  ticks: { autoSkip: false, maxRotation: 0, minRotation: 0, align: 'start', padding: 2,
           callback: (v, k) => dateLabels[k] },
  grid: { drawOnChartArea: false, drawTicks: true, tickLength: 4, tickColor: '#000', offset: false },
  border: { display: false }
};

new Chart(document.getElementById('stochChart'), {
  type: 'line',
  data: {
    datasets: [
      lineSet(stochSignal, '#ff0000', { borderDash: [2, 2], tension: 0.35 }),
      lineSet(stochMain, '#20b2aa', { order: 0, tension: 0.35 })
    ]
  },
  options: {
    responsive: false, animation: false, events: [],
    layout: { padding: { left: 4, top: 1, right: 0, bottom: 0 } },
    plugins: {
      legend: { display: false }, tooltip: { enabled: false },
      caption: { x: 9, y: 12, text: 'Stoch(5,3,3) 11.0030 25.4549' },
      panelLabels: { values: stochTicks, text: stochTickText }
    },
    scales: {
      x: timeAxis,
      x2: weekAxis(),
      y: rightAxis(-0.41, 103.7, stochTicks, null,
        ctx => (ctx.tick && (ctx.tick.value === 20 || ctx.tick.value === 80)) ? '#c0c0c0' : 'rgba(0,0,0,0)')
    }
  },
  plugins: [framePlugin, captionPlugin, panelLabelPlugin]
});
</script>
</body>
</html>
